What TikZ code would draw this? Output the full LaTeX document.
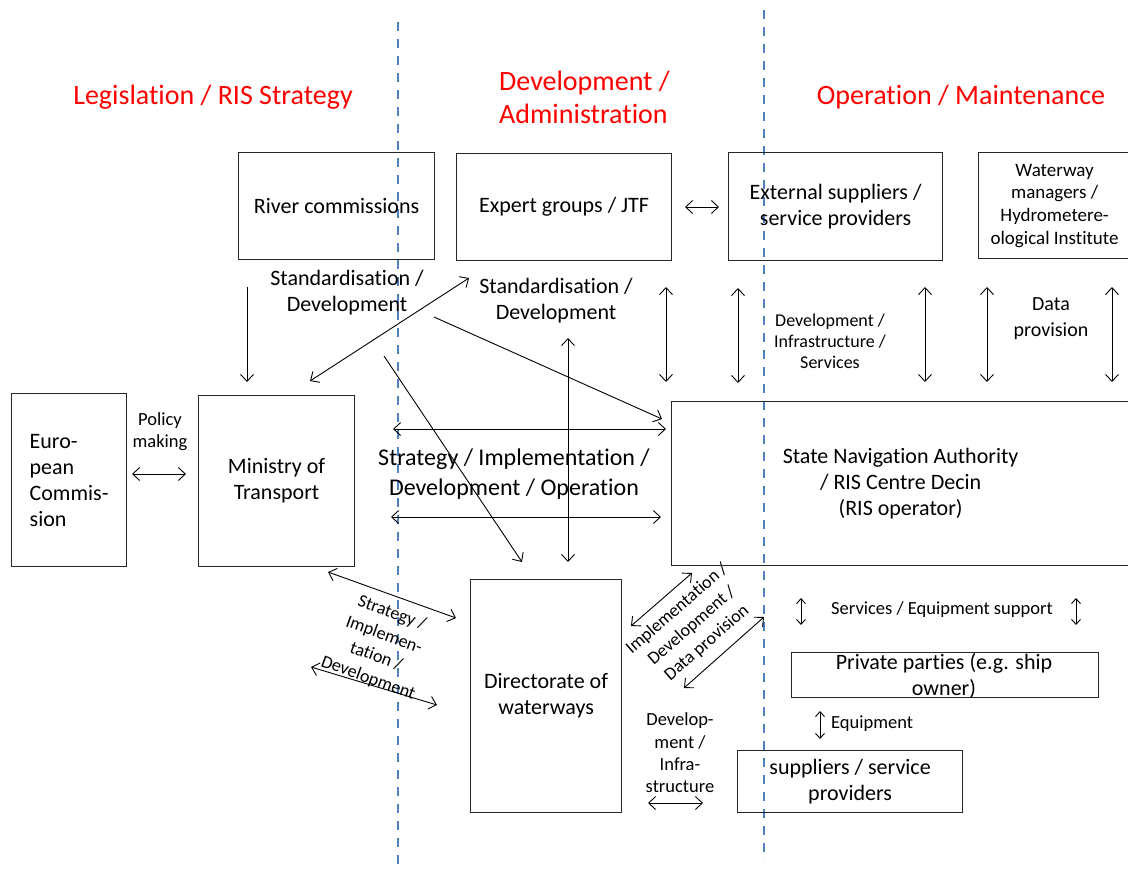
\documentclass[tikz,border=0pt]{standalone}
\usepackage{fontspec}
\setmainfont{Carlito}[RawFeature={-liga;-clig;-calt;-dlig}]
\usetikzlibrary{arrows.meta}
\definecolor{sepblue}{RGB}{79,129,189}
\definecolor{headred}{RGB}{255,0,0}
\begin{document}
\begin{tikzpicture}[x=1pt,y=-1pt,
  box/.style={draw=black!85, line width=1.2pt, inner sep=0pt, anchor=north west, align=center},
  big/.style={font=\fontsize{22}{26}\selectfont, align=center},
  huge/.style={font=\fontsize{24}{30}\selectfont, align=center},
  small/.style={font=\fontsize{18.5}{22.5}\selectfont, align=center, inner sep=0pt},
  head/.style={text=headred, font=\fontsize{28}{33}\selectfont, inner sep=0pt},
  sep/.style={draw=sepblue, line width=2.2pt, dash pattern=on 9pt off 8pt},
  arr/.style={line width=0.9pt, -{Straight Barb[length=7pt,width=13pt]}},
  darr/.style={line width=0.9pt, {Straight Barb[length=7pt,width=13pt]}-{Straight Barb[length=7pt,width=13pt]}},
  sdarr/.style={line width=0.9pt, {Straight Barb[length=5pt,width=9pt]}-{Straight Barb[length=5pt,width=9pt]}}
]
\useasboundingbox (0,0) rectangle (1128,871);

% separators
\draw[sep] (398,22) -- (398,871);
\draw[sep] (764,10) -- (764,860);

% headings
\node[head] (h1) at (213,97) {Legislation / RIS Strategy};
\node[head, align=left, anchor=west] (h2) at (499,97) {Development /\\Administration};
\node[head] (h3) at (961,97) {Operation / Maintenance};

% boxes
\node[box, big, minimum width=196pt, minimum height=107pt] (rc) at (238,152) {River commissions};
\node[box, big, minimum width=215pt, minimum height=107pt] (eg) at (456,153) {Expert groups / JTF};
\node[box, big, minimum width=214pt, minimum height=108pt] (es) at (728,152) {External suppliers /\\service providers};
\node[box, font=\fontsize{19}{22.7}\selectfont, minimum width=152pt, minimum height=106pt] (wm) at (978,152) {Waterway\\managers /\\Hydrometere-\\ological Institute};
\node[box, big, align=left, minimum width=115pt, minimum height=173pt] (ec) at (11,393) {Euro-\\pean\\Commis-\\sion};
\node[box, big, minimum width=156pt, minimum height=171pt] (mt) at (198,395) {Ministry of\\Transport};
\node[box, big, minimum width=458pt, minimum height=164pt] (sn) at (671,401) {State Navigation Authority\\/ RIS Centre Decin\\(RIS operator)};
\node[box, big, minimum width=151pt, minimum height=233pt] (dw) at (470,579) {Directorate of\\waterways};
\node[box, minimum width=307pt, minimum height=45pt] (pp) at (791,652) {};
\node[big] (ppt) at (944,676) {Private parties (e.g. ship\\owner)};
\node[box, big, minimum width=225pt, minimum height=62pt] (sp) at (737,750) {suppliers / service\\providers};

% labels
\node[big, inner sep=0pt] (l1) at (347,293) {Standardisation /\\Development};
\node[big, inner sep=0pt] (l2) at (556,301) {Standardisation /\\Development};
\node[small, font=\fontsize{18.5}{22}\selectfont] (l3) at (160,432) {Policy\\making};
\node[huge, inner sep=0pt] (l4) at (514,474) {Strategy / Implementation /\\Development / Operation};
\node[small, font=\fontsize{18}{21}\selectfont] (l5) at (830,341) {Development /\\Infrastructure /\\Services};
\node[font=\fontsize{20}{26}\selectfont, align=center, inner sep=0pt] (l6) at (1051,319) {Data\\provision};
\node[small, font=\fontsize{18}{23}\selectfont, rotate=-20] (l7) at (380,646) {Strategy /\\Implemen-\\tation /\\Development};
\node[small, font=\fontsize{18}{22.6}\selectfont, rotate=41] (l8) at (692,626) {Implementation /\\Development /\\Data provision};
\node[small, font=\fontsize{18.5}{22.3}\selectfont] (l9) at (680,753) {Develop-\\ment /\\Infra-\\structure};
\node[small] (l10) at (942,610) {Services / Equipment support};
\node[small, anchor=west] (l11) at (831,724) {Equipment};

% connector end points
\coordinate (a1s) at (247,287); \coordinate (a1e) at (247,382);
\coordinate (a2s) at (310,381); \coordinate (a2e) at (469,278);
\coordinate (a3s) at (434,317); \coordinate (a3e) at (662,419);
\coordinate (a4s) at (384,356); \coordinate (a4e) at (522,562);
\coordinate (a5s) at (568,338); \coordinate (a5e) at (568,562);
\coordinate (a6s) at (666,287); \coordinate (a6e) at (666,382);
\coordinate (a7s) at (738,288); \coordinate (a7e) at (738,383);
\coordinate (a8s) at (925,287); \coordinate (a8e) at (925,382);
\coordinate (a9s) at (987,287); \coordinate (a9e) at (987,382);
\coordinate (a10s) at (1112,287); \coordinate (a10e) at (1112,382);
\coordinate (a11s) at (685,207); \coordinate (a11e) at (719,207);
\coordinate (a12s) at (393,429); \coordinate (a12e) at (666,429);
\coordinate (a13s) at (391,517); \coordinate (a13e) at (661,517);
\coordinate (a14s) at (132,474); \coordinate (a14e) at (186,474);
\coordinate (a15s) at (328,572); \coordinate (a15e) at (456,618);
\coordinate (a16s) at (311,667); \coordinate (a16e) at (437,705);
\coordinate (a17s) at (631,626); \coordinate (a17e) at (692,573);
\coordinate (a18s) at (684,688); \coordinate (a18e) at (764,617);
\coordinate (a19s) at (648,803); \coordinate (a19e) at (703,803);
\coordinate (a20s) at (801,598); \coordinate (a20e) at (801,625);
\coordinate (a21s) at (1076,598); \coordinate (a21e) at (1076,625);
\coordinate (a22s) at (820,711); \coordinate (a22e) at (820,739);

% connectors
\draw[arr] (a1s) -- (a1e);
\draw[darr] (a2s) -- (a2e);
\draw[arr] (a3s) -- (a3e);
\draw[arr] (a4s) -- (a4e);
\draw[darr] (a5s) -- (a5e);
\draw[darr] (a6s) -- (a6e);
\draw[darr] (a7s) -- (a7e);
\draw[darr] (a8s) -- (a8e);
\draw[darr] (a9s) -- (a9e);
\draw[darr] (a10s) -- (a10e);
\draw[darr] (a11s) -- (a11e);
\draw[darr] (a12s) -- (a12e);
\draw[darr] (a13s) -- (a13e);
\draw[darr] (a14s) -- (a14e);
\draw[darr] (a15s) -- (a15e);
\draw[darr] (a16s) -- (a16e);
\draw[darr] (a17s) -- (a17e);
\draw[darr] (a18s) -- (a18e);
\draw[darr] (a19s) -- (a19e);
\draw[sdarr] (a20s) -- (a20e);
\draw[sdarr] (a21s) -- (a21e);
\draw[sdarr] (a22s) -- (a22e);
\end{tikzpicture}
\end{document}
